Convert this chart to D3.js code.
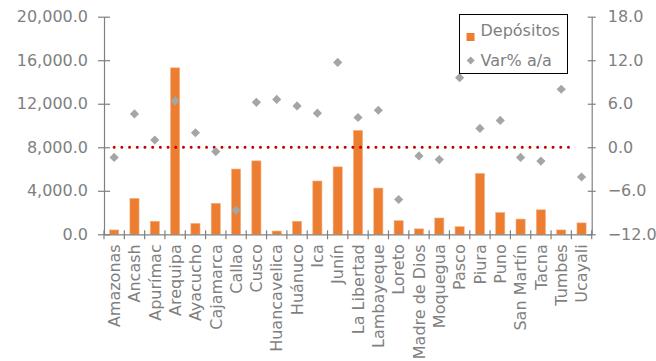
<!DOCTYPE html>
<html><head><meta charset="utf-8">
<script src="https://cdn.jsdelivr.net/npm/d3@7"></script>
<style>body{margin:0;background:#fff;}svg{display:block;}</style>
</head><body>
<script>
const categories = ["Amazonas","Ancash","Apurímac","Arequipa","Ayacucho","Cajamarca","Callao","Cusco","Huancavelica","Huánuco","Ica","Junín","La Libertad","Lambayeque","Loreto","Madre de Dios","Moquegua","Pasco","Piura","Puno","San Martín","Tacna","Tumbes","Ucayali"];
const depositos = [400,3300,1200,15300,1000,2850,6000,6750,300,1200,4900,6200,9550,4250,1250,500,1500,700,5600,2000,1400,2250,400,1050];
const varPct = [-1.4,4.6,1.0,6.4,2.0,-0.6,-8.7,6.2,6.6,5.7,4.7,11.7,4.1,5.1,-7.2,-1.2,-1.7,9.6,2.6,3.7,-1.4,-1.9,8.0,-4.1];
const leftTicks = [0,4000,8000,12000,16000,20000];
const rightTicks = [-12,-6,0,6,12,18];
const seriesNames = ["Depósitos","Var% a/a"];

const W = 656, H = 361;
const font = "'DejaVu Sans', Verdana, sans-serif";
const gray = "#808080", textGray = "#7f7f7f";
const orange = "#ED7D31", diamondGray = "#A5A5A5", red = "#C00000";

const svg = d3.select("body").append("svg").attr("width", W).attr("height", H)
  .style("font-family", font);

const x0 = 104, x1 = 591.7, yTop = 16.7, yBot = 234.3;
const x = d3.scaleBand().domain(categories).range([x0, x1]).paddingInner(0).paddingOuter(0);
const yL = d3.scaleLinear().domain([0, 20000]).range([yBot, yTop]);
const yR = d3.scaleLinear().domain([-12, 18]).range([yBot, yTop]);

// bars
const bw = x.bandwidth() * 0.45;
svg.append("g").selectAll("rect").data(depositos).join("rect")
  .attr("x", (d, i) => x(categories[i]) + (x.bandwidth() - bw) / 2)
  .attr("y", d => yL(d))
  .attr("width", bw)
  .attr("height", d => yBot - yL(d))
  .attr("fill", orange)
  .attr("stroke", "#F4B183").attr("stroke-width", 0.6);

// zero line of right axis (dotted red)
const c0 = x(categories[0]) + x.bandwidth() / 2;
const cN = x(categories[categories.length - 1]) + x.bandwidth() / 2 - 6;
svg.append("line")
  .attr("x1", c0).attr("x2", cN)
  .attr("y1", yR(0)).attr("y2", yR(0))
  .attr("stroke", red).attr("stroke-width", 3)
  .attr("stroke-linecap", "round")
  .attr("stroke-dasharray", "0 7.7");

// axes
function styleAxis(g) {
  g.selectAll("path.domain").attr("stroke", gray).attr("stroke-width", 1.2);
  g.selectAll(".tick line").attr("stroke", gray).attr("stroke-width", 1.2);
  g.selectAll(".tick text").attr("fill", textGray).style("font-size", "16px").style("font-family", font);
}

const fmt = d3.format(",.1f");
const gL = svg.append("g").attr("transform", `translate(${x0},0)`)
  .call(d3.axisLeft(yL).tickValues(leftTicks).tickFormat(fmt).tickSizeInner(6).tickSizeOuter(0).tickPadding(10));
gL.selectAll(".tick line").attr("x2", 6).attr("x1", -6);
styleAxis(gL);

const gR = svg.append("g").attr("transform", `translate(${x1},0)`)
  .call(d3.axisRight(yR).tickValues(rightTicks).tickFormat(d3.format(".1f")).tickSizeInner(4).tickSizeOuter(0).tickPadding(12));
gR.selectAll(".tick line").attr("x1", -4).attr("x2", 4);
styleAxis(gR);

// x axis
const gX = svg.append("g").attr("transform", `translate(0,${yBot})`)
  .call(d3.axisBottom(x).tickSize(0).tickPadding(0));
gX.select("path.domain").attr("stroke", gray).attr("stroke-width", 1.2);
gX.selectAll(".tick text")
  .attr("fill", textGray).style("font-size", "16px").style("font-family", font)
  .attr("transform", "rotate(-90)")
  .attr("text-anchor", "end")
  .attr("x", -10).attr("y", 0).attr("dy", "0.36em");
// category boundary ticks
const bounds = categories.map(c => x(c)).concat([x1]);
svg.append("g").selectAll("line").data(bounds).join("line")
  .attr("x1", d => d).attr("x2", d => d)
  .attr("y1", yBot - 4).attr("y2", yBot + 5)
  .attr("stroke", gray).attr("stroke-width", 1.2);

// diamonds
const ds = 4.6;
const diamond = `M0,${-ds}L${ds},0L0,${ds}L${-ds},0Z`;
svg.append("g").selectAll("path").data(varPct).join("path")
  .attr("d", diamond)
  .attr("transform", (d, i) => `translate(${x(categories[i]) + x.bandwidth() / 2},${yR(d)})`)
  .attr("fill", diamondGray);

// legend
const lg = svg.append("g");
lg.append("rect").attr("x", 459.5).attr("y", 14.5).attr("width", 108).attr("height", 59)
  .attr("fill", "#fff").attr("stroke", "#000").attr("stroke-width", 1);
lg.append("rect").attr("x", 466.5).attr("y", 33).attr("width", 8).attr("height", 8).attr("fill", orange);
lg.append("path").attr("d", `M0,-4L4,0L0,4L-4,0Z`).attr("transform", "translate(470.7,60.5)").attr("fill", diamondGray);
lg.selectAll("text").data(seriesNames).join("text")
  .attr("x", 480.5).attr("y", (d, i) => i === 0 ? 35.5 : 66)
  .attr("fill", textGray).style("font-size", "16px")
  .text(d => d);
</script>
</body></html>
